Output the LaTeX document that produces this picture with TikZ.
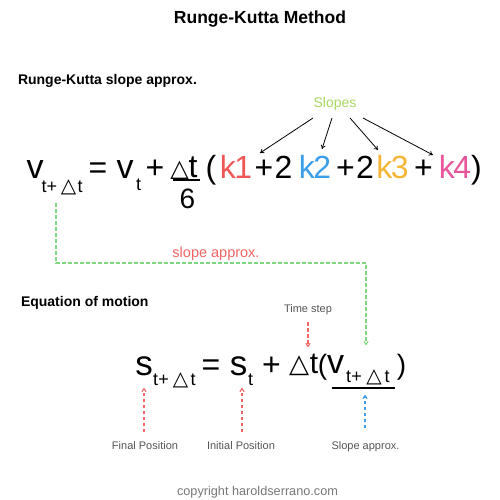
\documentclass[tikz,border=0pt]{standalone}
\usepackage{fontspec}
\setmainfont{Liberation Sans}
\newfontfamily\trifont{DejaVu Sans}
\usetikzlibrary{arrows.meta}
\newcommand\fsz[1]{\fontsize{#1}{#1}\selectfont}
\newcommand\tri{{\trifont △}}
\definecolor{kred}{HTML}{EF5656}
\definecolor{kblue}{HTML}{3A9EE8}
\definecolor{korange}{HTML}{F5B535}
\definecolor{kpink}{HTML}{E8559A}
\definecolor{slgreen}{HTML}{A8D862}
\definecolor{dgreen}{HTML}{7ED67E}
\definecolor{dred}{HTML}{F06464}
\definecolor{labgray}{HTML}{555555}
\definecolor{copygray}{HTML}{777777}
\begin{document}
\begin{tikzpicture}[x=1pt,y=-1pt,
  every node/.style={inner sep=0pt,outer sep=0pt,anchor=base},
  big/.style={font=\fsz{32}},
  bigv/.style={font=\fsz{34}},
  bigs/.style={font=\fsz{35}},
  subt/.style={font=\fsz{18}},
  subd/.style={font=\fsz{20}},
  heading/.style={font=\fsz{14}\bfseries,anchor=base west},
  small/.style={font=\fsz{11},text=labgray},
  slopearrow/.style={draw=black,line width=0.8pt,-{To[length=4pt,width=5pt]}},
  dashconn/.style={line width=1.1pt,dash pattern=on 3.5pt off 2.5pt,-{To[length=4pt,width=5pt]}},
  uline/.style={line width=1.1pt}
]
\useasboundingbox (0,0) rectangle (500,500);

% titles
\node[font=\fsz{17.5}\bfseries] (title) at (260,24) {Runge-Kutta Method};
\node[heading] (h1) at (18,85) {Runge-Kutta slope approx.};
\node[heading] (h2) at (21,306) {Equation of motion};

% top equation
\node[bigv] (v1) at (35,178) {v};
\node[subt] (s1a) at (49.5,192) {t+};
\node[subd] (s1d) at (68.5,192) {\tri};
\node[subt] (s1t) at (80,192) {t};
\node[big] (eq1) at (98,178) {=};
\node[bigv] (v2) at (125,178) {v};
\node[subt] (s2t) at (138.5,190) {t};
\node[big] (p1) at (155,178) {+};
\node[font=\fsz{24}] (nd) at (179.5,176) {\tri};
\node[big] (nt) at (193,177) {t};
\draw[uline] (173,180) -- (200,180);
\node[font=\fsz{28}] (six) at (187.5,208) {6};
\node[big] (lp) at (211,178) {(};
\node[big,text=kred] (k1) at (236,178) {k\kern-1.5pt1};
\node[big] (p2) at (264,178) {+};
\node[big] (two1) at (283.5,178) {2};
\node[big,text=kblue] (k2) at (315,178) {k\kern-1.5pt2};
\node[big] (p3) at (345.5,178) {+};
\node[big] (two2) at (365,178) {2};
\node[big,text=korange] (k3) at (392.5,178) {k\kern-1.5pt3};
\node[big] (p4) at (423.5,178) {+};
\node[big,text=kpink] (k4) at (455,178) {k\kern-1.5pt4};
\node[big] (rp) at (476.5,178) {)};

% slopes
\node[font=\fsz{14},text=slgreen] (slopes) at (335,108) {Slopes};
\coordinate (a1s) at (313,118); \coordinate (a1e) at (260,153);
\coordinate (a2s) at (332,118); \coordinate (a2e) at (322,149);
\coordinate (a3s) at (350,118); \coordinate (a3e) at (378,150);
\coordinate (a4s) at (363,118); \coordinate (a4e) at (433,155);
\draw[slopearrow] (a1s) -- (a1e);
\draw[slopearrow] (a2s) -- (a2e);
\draw[slopearrow] (a3s) -- (a3e);
\draw[slopearrow] (a4s) -- (a4e);

% green connector
\coordinate (gstart) at (56,203);
\coordinate (gend) at (366,345);
\draw[dashconn,draw=dgreen] (gstart) -- (56,263) -- (366,263) -- (gend);
\node[font=\fsz{14.5},text=dred] (slap) at (216,257) {slope approx.};

% bottom equation
\node[bigs] (bs1) at (144,375) {s};
\node[subt] (b1a) at (161,385) {t+};
\node[subd] (b1d) at (180.5,385) {\tri};
\node[subt] (b1t) at (193,385) {t};
\node[big] (beq) at (211,375) {=};
\node[bigs] (bs2) at (238.5,375) {s};
\node[subt] (b2t) at (250.5,385) {t};
\node[big] (bp) at (271.5,375) {+};
\node[font=\fsz{26}] (bd) at (299,372) {\tri};
\node[font=\fsz{30}] (bt) at (314,373) {t};
\node[font=\fsz{28}] (blp) at (322.5,374) {(};
\node[bigv] (bv) at (335.5,373) {v};
\node[subt] (b3a) at (354,382) {t+};
\node[subd] (b3d) at (374,382) {\tri};
\node[subt] (b3t) at (387,382) {t};
\node[font=\fsz{28}] (brp) at (401.5,374) {)};
\draw[uline] (332,388) -- (395,388);

% labels
\node[font=\fsz{11},text=labgray] (tstep) at (308,312) {Time step};
\node[small] (lfinal) at (145,449) {Final Position};
\node[small] (linit) at (241,449) {Initial Position};
\node[small] (lslope) at (365.5,449) {Slope approx.};

\coordinate (r0s) at (308,322); \coordinate (r0e) at (308,347);
\coordinate (r1s) at (144,432); \coordinate (r1e) at (144,388);
\coordinate (r2s) at (242,432); \coordinate (r2e) at (242,388);
\coordinate (b0s) at (365,428); \coordinate (b0e) at (365,395);
\draw[dashconn,draw=dred] (r0s) -- (r0e);
\draw[dashconn,draw=dred] (r1s) -- (r1e);
\draw[dashconn,draw=dred] (r2s) -- (r2e);
\draw[dashconn,draw=kblue] (b0s) -- (b0e);

\node[font=\fsz{12.7},text=copygray] (copy) at (257.5,495) {copyright haroldserrano.com};
\end{tikzpicture}
\end{document}
